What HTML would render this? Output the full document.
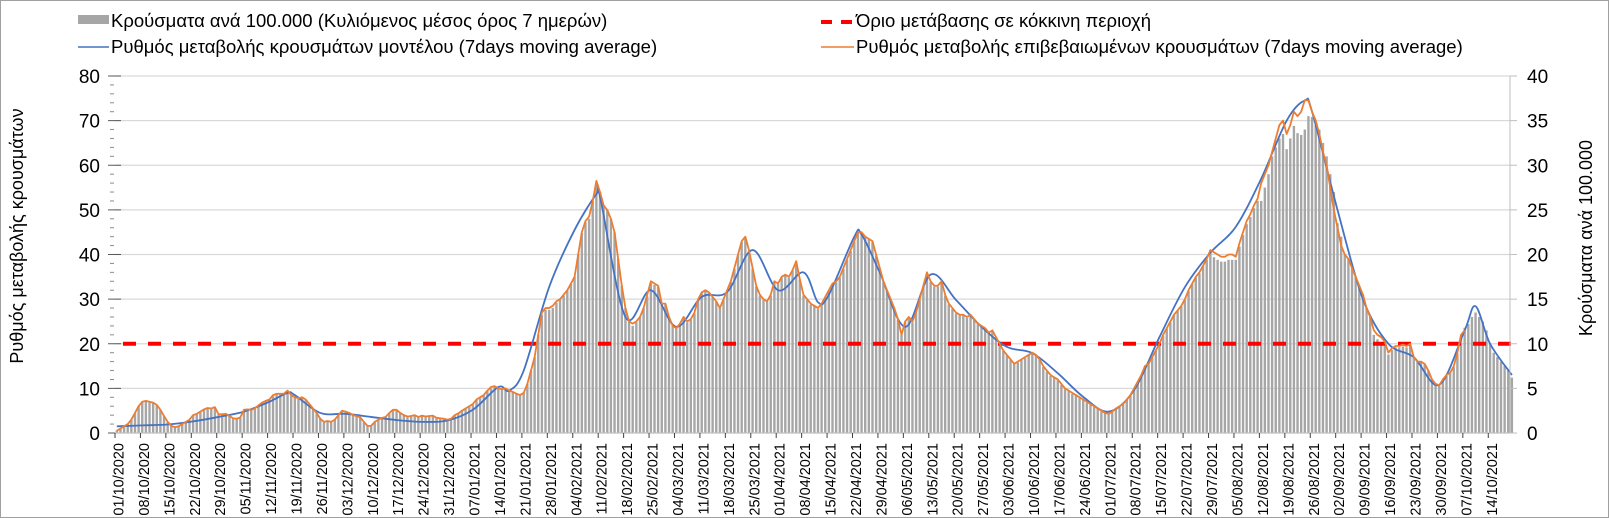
<!DOCTYPE html>
<html><head><meta charset="utf-8">
<style>
html,body{margin:0;padding:0;background:#fff;}
body{width:1609px;height:518px;overflow:hidden;font-family:"Liberation Sans",Arial,sans-serif;}
svg{display:block;}
</style></head>
<body>
<svg id="chart" width="1609" height="518" xmlns="http://www.w3.org/2000/svg">
<rect x="0.5" y="0.5" width="1608" height="517" fill="#fff" stroke="#a0a0a0"/>
<g id="grid"></g>
<g id="bars"></g>
<g id="lines"></g>
<g id="axes"></g>
<g font-size="18.5" fill="#000">
  <g>
    <rect x="78" y="15" width="31" height="9" fill="#a6a6a6"/>
    <text x="111" y="27">Κρούσματα ανά 100.000 (Κυλιόμενος μέσος όρος 7 ημερών)</text>
  </g>
  <g>
    <line x1="78" y1="47" x2="109" y2="47" stroke="#4472c4" stroke-width="1.5"/>
    <text x="111" y="53">Ρυθμός μεταβολής κρουσμάτων μοντέλου (7days moving average)</text>
  </g>
  <g>
    <line x1="821" y1="22" x2="854" y2="22" stroke="#ff0000" stroke-width="4" stroke-dasharray="11 9"/>
    <text x="856" y="27">Όριο μετάβασης σε κόκκινη περιοχή</text>
  </g>
  <g>
    <line x1="821" y1="47" x2="854" y2="47" stroke="#ed7d31" stroke-width="1.5"/>
    <text x="856" y="53">Ρυθμός μεταβολής επιβεβαιωμένων κρουσμάτων (7days moving average)</text>
  </g>
</g>
<text font-size="18" text-anchor="middle" transform="translate(23,236) rotate(-90)">Ρυθμός μεταβολής κρουσμάτων</text>
<text font-size="18" text-anchor="middle" transform="translate(1592,238) rotate(-90)">Κρούσματα ανά 100.000</text>
</svg>
<script>
// ---- data ----
const startYear = 2020, startMonthIndex = 9, startDay = 1; // 01/10/2020
const leftTicks = [0,10,20,30,40,50,60,70,80];
const rightTicks = [0,5,10,15,20,25,30,35,40];
const threshold = 20;
const bars = [
0.3,0.5,0.8,1,1.5,2.2,3, 3.5,3.6,3.5,3.4,3.1,2.6,1.9, 1.2,0.8,0.7,0.8,1,1.2,1.5, 2,2.1,2.4,2.6,2.8,2.7,2.9,
2.1,2.1,2.1,1.9,1.6,1.6,1.7, 2.6,2.6,2.6,2.7,3.1,3.4,3.6, 3.7,4.2,4.4,4.4,4.4,4.7,4.2, 4,3.9,4,3.7,3.2,2.7,2.2,
1.6,1.2,1.3,1.2,1.5,2,2.5, 2.4,2.2,2,1.9,1.7,1.2,0.8, 0.8,1.2,1.5,1.7,1.8,2.2,2.6, 2.6,2.2,2,1.8,1.9,2,1.8,
1.9,1.8,1.9,1.9,1.7,1.6,1.6, 1.5,1.6,2,2.2,2.5,2.7,3, 3.2,3.7,4,4.2,4.7,5,5.2, 5,4.9,5,4.7,4.6,4.4,4.2,
4.5,5.5,7,8.5,11,13.2,13.8, 13.8,14,14.6,15,15.4,16,16.7, 17.5,20,22.4,23.6,24,26,28, 27,25.5,25,24,22.5,19.5,16.5,
14,12.5,12,12.4,13,14,15.3, 16.8,16.6,16.4,14.4,14.4,13,12, 11.7,12.2,12.9,12.4,12.7,13.4,14.9, 15.7,16,15.7,15.2,14.7,14,14.9,
16,16.9,18.4,19.9,21.4,21.9,20.4, 18.4,16.4,15.4,14.9,14.7,15.4,16.9, 16.7,17.4,17.7,17.4,18.2,19.2,17.2, 15.4,14.9,14.4,14.2,13.9,14.4,15.2,
15.9,16.7,16.9,17.4,18.4,19.4,20.4, 21.4,22.4,22.4,21.9,21.7,21.4,19.9, 18.4,16.9,15.9,14.9,13.9,12.7,11, 12.4,12.9,12.4,13.4,14.9,16.4,17.9,
16.9,16.4,16.4,16.9,15.4,14.4,13.9, 13.4,13.2,13.2,12.9,13.2,12.7,12.2, 11.9,11.7,11.2,11.4,10.7,9.9,9.2, 8.7,8.2,7.7,7.9,8.2,8.4,8.7,
8.9,8.7,8.2,7.4,6.9,6.4,6.2, 5.9,5.4,4.9,4.7,4.4,4.2,3.9, 3.7,3.4,3.2,2.9,2.7,2.4,2.2, 2.1,2.4,2.7,2.9,3.2,3.7,4.2,
4.9,5.7,6.4,7.4,7.7,8.4,9.2, 9.9,10.9,11.7,12.4,13.2,13.7,14.2, 14.9,15.9,16.7,17.4,17.9,18.7,19.4, 20.2,19.7,19.4,19.2,19.2,19.4,19.4,
19.4,20.9,22.2,23.4,24.2,25.2,26, 26,27.5,29,31,32,33,33.5, 31.8,33,34.4,33.6,33.4,34,35.5, 35.4,34.5,34,32.5,31,29,27,
23.5,22,20,19.5,18.5,17.5,16.5, 15.5,14,13,11,10.5,10.2,10, 8.8,9.3,9.6,9.6,9.7,9.6,9.8, 8.5,8,8,7.7,7,6,5.5,
5.3,5.9,6.4,6.7,7.4,8.9,10.8, 11.8,12.2,13,13.5,13,12.5,11.5, 10,9,8.5,8,7.5,7,6.2
];
const orange = [
0.5,1,1.5,2,3,4.5,6, 7,7.2,7,6.8,6.3,5.2,3.8, 2.5,1.6,1.3,1.5,2,2.5,3, 4,4.3,4.8,5.3,5.6,5.5,5.8,
4.2,4.2,4.3,3.8,3.3,3.2,3.5, 5.2,5.3,5.2,5.5,6.2,6.8,7.2, 7.5,8.5,8.8,8.8,8.8,9.5,8.5, 8,7.8,8,7.5,6.5,5.5,4.5,
3.2,2.5,2.7,2.5,3,4,5, 4.8,4.5,4,3.8,3.5,2.5,1.6, 1.6,2.5,3,3.4,3.6,4.5,5.2, 5.2,4.5,4,3.7,3.8,4,3.6,
3.9,3.7,3.8,3.9,3.4,3.3,3.2, 3,3.2,4,4.4,5,5.5,6, 6.5,7.5,8,8.5,9.5,10.3,10.5, 10,9.8,10,9.5,9.2,8.8,8.5,
9,11,14,17,22,27,28, 28,28.5,29.5,30,31,32,33.5, 35,40,45,47.5,48.5,52,56.5, 54,51,50,48,45,39,33,
28,25,24.5,25,26,28,31, 34,33.5,33,29,29,26,24, 23.5,24.5,26,25,25.5,27,30, 31.5,32,31.5,30.5,29.5,28,30,
32,34,37,40,43,44,41, 37,33,31,30,29.5,31,34, 33.5,35,35.5,35,36.5,38.5,34.5, 31,30,29,28.5,28,29,30.5,
32,33.5,34,35,37,39,41, 43,45,45,44,43.5,43,40, 37,34,32,30,28,25.5,22, 25,26,25,27,30,33,36,
34,33,33,34,31,29,28, 27,26.5,26.5,26,26.5,25.5,24.5, 24,23.5,22.5,23,21.5,20,18.5, 17.5,16.5,15.5,16,16.5,17,17.5,
18,17.5,16.5,15,14,13,12.5, 12,11,10,9.5,9,8.5,8, 7.5,7,6.5,6,5.5,5,4.5, 4.3,4.8,5.5,6,6.5,7.5,8.5,
10,11.5,13,15,15.5,17,18.5, 20,22,23.5,25,26.5,27.5,28.5, 30,32,33.5,35,36,37.5,39, 41,40.5,40,39.5,39.5,40,40,
39.5,42.5,45,47.5,49,51,52.5, 56,58,60,63,66,69,70, 67,69,72,71,72,74.6,74.5, 72,70,67,63,60,55,50,
46,42,40,39,37,35,33, 31,28,26,23,22,21.5,20.5, 18,19,19.5,19.5,19.8,19.5,20, 17,16,16,15.5,14,12,11,
10.7,12,13,13.5,15,18,22, 23
];
const blueDays = [0,7,14,21,28,35,42,47,49,56,63,70,77,84,91,98,105,108,112,119,126,132,133,140,147,154,161,168,175,182,189,193,196,203,205,210,217,224,231,238,245,252,259,266,273,280,287,294,301,308,315,322,327,329,336,343,350,357,364,371,374,378,384];
const blueVals = [1.5,1.7,1.9,2.6,3.6,4.8,7.0,9,8.5,4.5,4.3,3.6,2.9,2.5,2.8,5.2,10.3,9.5,14,32.7,45.5,53.5,53,26,32,23.8,30.5,31.6,41,32,36,29.3,31,44,44.5,36,23.8,35.5,29.8,23.8,19.3,17.9,13.4,8.1,4.8,9.6,21.5,32.7,40.4,46.2,57,70,74.5,72,50,30,20,17,10.8,23,28.4,20,13];

// ---- geometry ----
const X0 = 115, DAY = 3.633, Y0 = 433, YTOP = 76, XR = 1510;
const NS = 'http://www.w3.org/2000/svg';
function xDay(d){ return X0 + d*DAY; }
function xC(d){ return X0 + (d+0.5)*DAY; }
function yL(v){ return Y0 - (v/80)*(Y0-YTOP); }
function yR(v){ return Y0 - (v/40)*(Y0-YTOP); }
function mk(tag, attrs, parent){ const e=document.createElementNS(NS,tag); for(const k in attrs) e.setAttribute(k,attrs[k]); parent.appendChild(e); return e; }

const grid = document.getElementById('grid');
const axes = document.getElementById('axes');
const barsG = document.getElementById('bars');
const linesG = document.getElementById('lines');

leftTicks.forEach((t,i)=>{
  if(t>0){ const g=mk('line',{x1:X0,x2:XR,y1:yL(t),y2:yL(t),stroke:'#d9d9d9','stroke-width':1.2},grid);
    
     }
  const lt=mk('text',{x:100,y:yL(t)+7,'font-size':19,'text-anchor':'end',fill:'#000'},axes);
  lt.textContent=t;
  
  
  mk('line',{x1:108,x2:121,y1:yL(t),y2:yL(t),stroke:'#595959','stroke-width':1},axes);
});
for(let v=2; v<80; v+=2){ if(v%10) mk('line',{x1:110,x2:114,y1:yL(v),y2:yL(v),stroke:'#8c8c8c','stroke-width':1},axes); }
rightTicks.forEach(t=>{
  const rt=mk('text',{x:1527,y:yR(t)+7,'font-size':19,'text-anchor':'start',fill:'#000'},axes);
  rt.textContent=t;
  
  
  mk('line',{x1:XR,x2:XR+7,y1:yR(t),y2:yR(t),stroke:'#bfbfbf'},axes);
});
mk('line',{x1:XR,x2:XR,y1:YTOP,y2:Y0,stroke:'#bfbfbf'},axes);

// bars
bars.forEach((v,d)=>{
  const b=mk('rect',{x:xC(d)-1.2,y:yR(v),width:2.4,height:Y0-yR(v),fill:'#a6a6a6'},barsG);
  
  
});

// x-axis
mk('line',{x1:X0,x2:XR,y1:Y0,y2:Y0,stroke:'#bfbfbf','stroke-width':1.2},axes);
const mon=['01','02','03','04','05','06','07','08','09','10','11','12'];
for(let d=0; d<bars.length; d+=7){
  mk('line',{x1:xDay(d),x2:xDay(d),y1:Y0,y2:Y0+5,stroke:'#404040'},axes);
  const dt=new Date(startYear,startMonthIndex,startDay+d);
  const lbl=String(dt.getDate()).padStart(2,'0')+'/'+mon[dt.getMonth()]+'/'+dt.getFullYear();
  const tx=mk('text',{'font-size':14.5,'text-anchor':'end',fill:'#000',transform:'translate('+(xDay(d)+8.5)+','+(Y0+10)+') rotate(-90)'},axes);
  tx.textContent=lbl;
  
  
}

// threshold
const th=mk('line',{x1:xDay(0)+8,x2:xDay(bars.length),y1:yL(threshold),y2:yL(threshold),stroke:'#ff0000','stroke-width':4,'stroke-dasharray':'13 12'},linesG);



// blue smooth line (catmull-rom)
const bp=blueDays.map((d,i)=>[xC(d),yL(blueVals[i])]);
let dstr='M'+bp[0][0]+','+bp[0][1];
for(let i=0;i<bp.length-1;i++){
  const p0=bp[Math.max(0,i-1)],p1=bp[i],p2=bp[i+1],p3=bp[Math.min(bp.length-1,i+2)];
  const c1=[p1[0]+(p2[0]-p0[0])/6,p1[1]+(p2[1]-p0[1])/6];
  const c2=[p2[0]-(p3[0]-p1[0])/6,p2[1]-(p3[1]-p1[1])/6];
  dstr+=' C'+c1[0].toFixed(2)+','+c1[1].toFixed(2)+' '+c2[0].toFixed(2)+','+c2[1].toFixed(2)+' '+p2[0].toFixed(2)+','+p2[1].toFixed(2);
}
const blue=mk('path',{d:dstr,fill:'none',stroke:'#4472c4','stroke-width':1.8},linesG);



// orange line
const op=orange.map((v,d)=>xC(d).toFixed(2)+','+yL(v).toFixed(2)).join(' ');
const or=mk('polyline',{points:op,fill:'none',stroke:'#ed7d31','stroke-width':1.8,'stroke-linejoin':'round'},linesG);


</script>
</body></html>
